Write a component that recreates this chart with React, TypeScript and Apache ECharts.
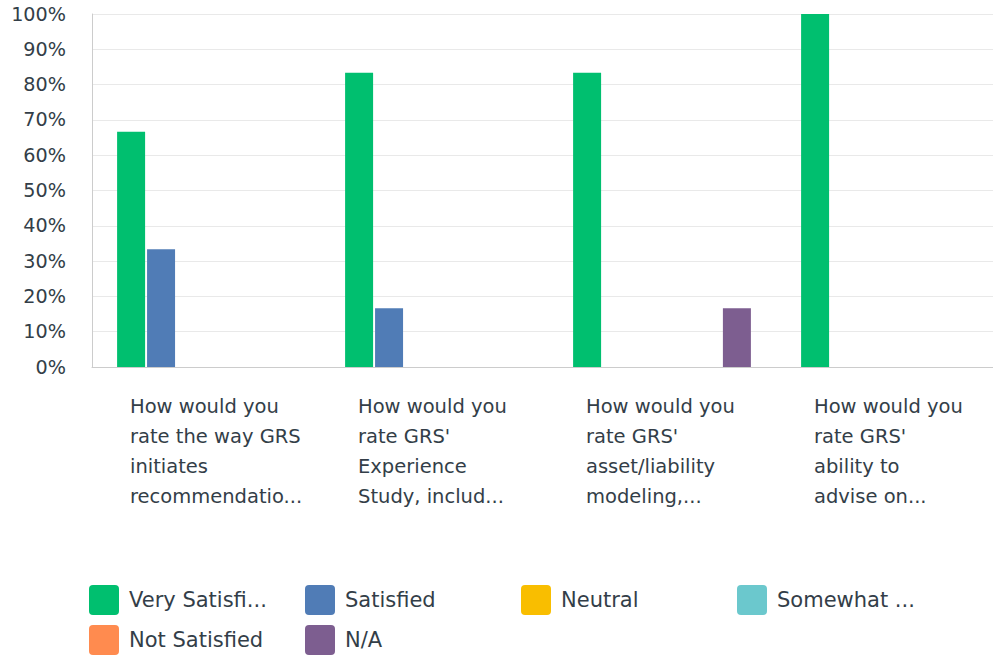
import React, { useEffect, useRef } from "react";
import * as echarts from "echarts";

const categories = [
  "How would you\nrate the way GRS\ninitiates\nrecommendatio...",
  "How would you\nrate GRS'\nExperience\nStudy, includ...",
  "How would you\nrate GRS'\nasset/liability\nmodeling,...",
  "How would you\nrate GRS'\nability to\nadvise on...",
];
const seriesNames = ["Very Satisfied", "Satisfied", "Neutral", "Somewhat Satisfied", "Not Satisfied", "N/A"];
const legendLabels = ["Very Satisfi...", "Satisfied", "Neutral", "Somewhat ...", "Not Satisfied", "N/A"];
const colors = ["#00BF6F", "#507CB6", "#F9BE00", "#6BC8CD", "#FF8B4F", "#7D5E90"];
const verySatisfied = [66.67, 83.33, 83.33, 100];
const satisfied = [33.33, 16.67, 0, 0];
const neutral = [0, 0, 0, 0];
const somewhatSatisfied = [0, 0, 0, 0];
const notSatisfied = [0, 0, 0, 0];
const na = [0, 0, 16.67, 0];
const seriesValues = [verySatisfied, satisfied, neutral, somewhatSatisfied, notSatisfied, na];

const FONT = "'DejaVu Sans', sans-serif";
const TEXT = "#333E48";
const ICON = "path://M4,0H26A4,4 0 0 1 30,4V26A4,4 0 0 1 26,30H4A4,4 0 0 1 0,26V4A4,4 0 0 1 4,0Z";

export default function App() {
  const ref = useRef<HTMLDivElement>(null);
  useEffect(() => {
    if (!ref.current) return;
    const chart = echarts.init(ref.current, undefined, { renderer: "svg" });
    const legends = seriesNames.map((name, i) => ({
      left: 89 + (i % 4) * 216,
      top: 585 + Math.floor(i / 4) * 40,
      padding: 0,
      itemWidth: 30,
      itemHeight: 30,
      icon: ICON,
      selectedMode: false,
      formatter: (n: string) => legendLabels[seriesNames.indexOf(n)],
      textStyle: { fontSize: 21, color: TEXT, fontFamily: FONT, padding: [0, 0, 0, 5] },
      data: [name],
    }));
    chart.setOption({
      animation: false,
      textStyle: { fontFamily: FONT },
      grid: { left: 92, width: 912, top: 14, bottom: 288, containLabel: false, outerBoundsMode: "none" },
      legend: legends,
      xAxis: {
        type: "category",
        data: categories,
        axisLine: { lineStyle: { color: "#cccccc", width: 1 } },
        axisTick: { show: false },
        axisLabel: {
          interval: 0,
          margin: 24,
          align: "center",
          formatter: (v: string) => v.split("\n").map((l) => `{a|${l}}`).join("\n"),
          rich: {
            a: { width: 152, align: "left", fontSize: 19.5, lineHeight: 30, color: TEXT, fontFamily: FONT },
          },
        },
      },
      yAxis: {
        type: "value",
        min: 0,
        max: 100,
        interval: 10,
        axisLine: { show: true, lineStyle: { color: "#cccccc", width: 1 } },
        axisTick: { show: false },
        splitLine: { lineStyle: { color: "#e9e9e9", width: 1 } },
        axisLabel: { formatter: "{value}%", fontSize: 19.2, color: TEXT, margin: 26, fontFamily: FONT },
      },
      series: seriesNames.map((name, i) => ({
        name,
        type: "bar",
        data: seriesValues[i],
        barWidth: 28,
        barGap: "7%",
        itemStyle: { color: colors[i] },
      })),
    });
    return () => chart.dispose();
  }, []);
  return <div ref={ref} style={{ position: "absolute", left: 0, top: 0, width: 993, height: 655 }} />;
}
